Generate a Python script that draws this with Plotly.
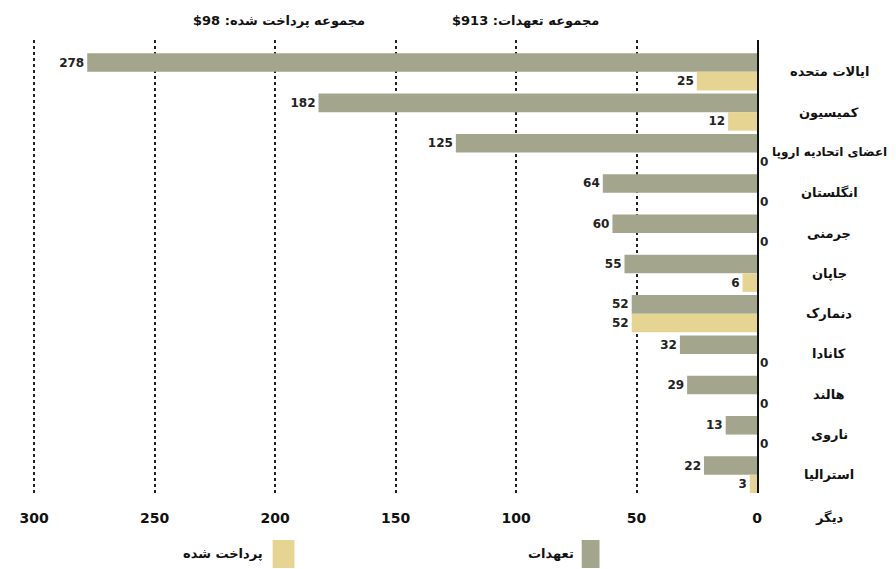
import plotly.graph_objects as go

categories = ["ایالات متحده", "کمیسیون", "اعضای اتحادیه اروپا", "انگلستان", "جرمنی",
              "جاپان", "دنمارک", "کانادا", "هالند", "ناروی", "استرالیا"]
extra_category = "دیگر"
pledged = [278, 182, 125, 64, 60, 55, 52, 32, 29, 13, 22]
paid = [25, 12, 0, 0, 0, 6, 52, 0, 0, 0, 3]
series_names = ["تعهدات", "پرداخت شده"]
total_pledged = "$913"
total_paid = "$98"
total_labels = ["مجموعه تعهدات", "مجموعه پرداخت شده"]
tick_values = [0, 50, 100, 150, 200, 250, 300]

GRAY = "#a3a68c"
YELLOW = "#e6d592"
FONT = "DejaVu Sans"

# page body adds an 8px offset; plot area on screen spans x 20..757, y 40..493
OFF = 8
PL, PR, PT, PB = 20 - OFF, 757 - OFF, 40 - OFF, 493 - OFF
PW, PH = PR - PL, PB - PT


def px(xs):
    return (xs - OFF - PL) / PW


def py(ys):
    return (PB - (ys - OFF)) / PH


fig = go.Figure()
fig.add_trace(go.Bar(
    y=categories, x=pledged, orientation="h", name=series_names[0],
    marker=dict(color=GRAY, line=dict(width=0)),
    text=[f"<b>{v}</b>" for v in pledged], textposition="outside",
    textfont=dict(family=FONT, size=12, color="#222"), cliponaxis=False,
))
fig.add_trace(go.Bar(
    y=categories, x=paid, orientation="h", name=series_names[1],
    marker=dict(color=YELLOW, line=dict(width=0)),
    text=[f"<b>{v}</b>" for v in paid], textposition="outside",
    textfont=dict(family=FONT, size=12, color="#222"), cliponaxis=False,
))

lab_font = dict(family=FONT, size=13, color="#111")
annotations = []
for c in categories:
    f = dict(lab_font, size=12) if len(c) > 15 else lab_font
    annotations.append(dict(xref="paper", yref="y", x=px(830), y=c, text=f"<b>{c}</b>",
                            showarrow=False, xanchor="center", yanchor="middle", font=f))
annotations.append(dict(xref="paper", yref="paper", x=px(830), y=py(517), text=f"<b>{extra_category}</b>",
                        showarrow=False, xanchor="center", yanchor="middle", font=lab_font))
# totals
annotations.append(dict(xref="paper", yref="paper", x=px(523), y=py(20),
                        text=f"<b>{total_pledged} :{total_labels[0]}</b>", showarrow=False,
                        xanchor="center", yanchor="middle", font=lab_font))
annotations.append(dict(xref="paper", yref="paper", x=px(274), y=py(20),
                        text=f"<b>{total_paid} :{total_labels[1]}</b>", showarrow=False,
                        xanchor="center", yanchor="middle", font=lab_font))
# legend
annotations.append(dict(xref="paper", yref="paper", x=px(574), y=py(553),
                        text=f"<b>{series_names[0]}</b>", showarrow=False, xanchor="right",
                        yanchor="middle", font=lab_font))
annotations.append(dict(xref="paper", yref="paper", x=px(260), y=py(553),
                        text=f"<b>{series_names[1]}</b>", showarrow=False, xanchor="right",
                        yanchor="middle", font=lab_font))

shapes = [
    dict(type="rect", xref="paper", yref="paper", x0=px(580), x1=px(598),
         y0=py(568), y1=py(540), fillcolor=GRAY, line=dict(width=0)),
    dict(type="rect", xref="paper", yref="paper", x0=px(268), x1=px(290),
         y0=py(568), y1=py(540), fillcolor=YELLOW, line=dict(width=0)),
]

fig.update_layout(
    width=896, height=569,
    margin=dict(l=PL, r=896 - PR, t=PT, b=569 - PB),
    paper_bgcolor="white", plot_bgcolor="white",
    barmode="group", bargap=0.08, bargroupgap=0,
    showlegend=False,
    annotations=annotations, shapes=shapes,
    font=dict(family=FONT),
    xaxis=dict(range=[303, 0], tickvals=tick_values,
               ticktext=[f"<b>{v}</b>" for v in tick_values],
               tickfont=dict(family=FONT, size=14, color="#111"),
               showgrid=True, gridcolor="#222", griddash="dot", gridwidth=1.5,
               zeroline=False, showline=False, ticks="", ticklabelstandoff=15),
    yaxis=dict(range=[10.45, -0.79], side="right", showticklabels=False,
               showgrid=False, zeroline=False, showline=True, linecolor="#111",
               linewidth=2, ticks=""),
)

fig.write_html("out.html")
